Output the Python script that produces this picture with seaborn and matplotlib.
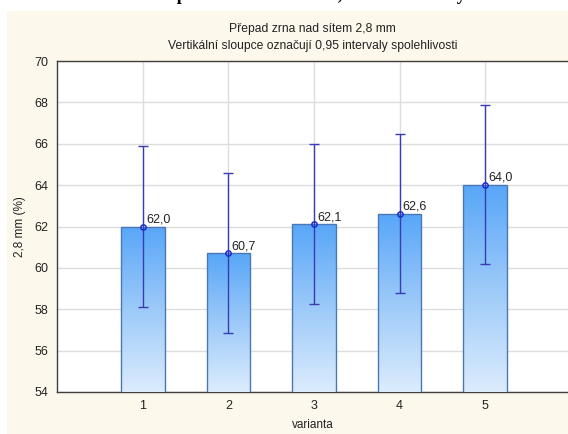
import numpy as np
import pandas as pd
import matplotlib
matplotlib.use("Agg")
import matplotlib.pyplot as plt
import seaborn as sns
from matplotlib.colors import LinearSegmentedColormap
from matplotlib.patches import Rectangle

categories = ["1", "2", "3", "4", "5"]
means = [62.0, 60.7, 62.1, 62.6, 64.0]
ci_low = [58.1, 56.85, 58.25, 58.78, 60.17]
ci_high = [65.88, 64.58, 66.0, 66.48, 67.86]
labels = ["62,0", "60,7", "62,1", "62,6", "64,0"]
yticks = [54, 56, 58, 60, 62, 64, 66, 68, 70]

sns.set_style("white")
plt.rcParams['font.family'] = ['Liberation Sans', 'DejaVu Sans']

fig = plt.figure(figsize=(5.68, 4.34), dpi=100, facecolor="white")
# beige panel background
fig.patches.append(Rectangle((7/568, 0), 1 - 7/568, (434 - 11) / 434,
                             transform=fig.transFigure, facecolor="#fdf8ec",
                             edgecolor="none", zorder=-10))
# cut-off caption at very top (only its lower edge is visible, as in the reference)
fig.text(0.49, 1 + 0.5/434, "Obr. 3: Přepad zrna nad sítem 2,8 mm - varianty",
         ha="center", va="baseline", fontsize=13, fontweight="bold",
         family=["Liberation Serif", "DejaVu Serif"], color="black")

ax = fig.add_axes([57/568, (434 - 392) / 434, (568.5 - 57) / 568, (392 - 61) / 434])
ax.set_facecolor("white")

df = pd.DataFrame({"varianta": categories, "value": means})
sns.barplot(data=df, x="varianta", y="value", ax=ax, errorbar=None,
            width=0.51, color="#7fb8f5", edgecolor="#4a78b4", linewidth=1.0,
            zorder=3)

cmap = LinearSegmentedColormap.from_list("bar", ["#dcecfd", "#9ccaf9", "#58a6f8"])
grad = np.linspace(0, 1, 256).reshape(-1, 1)
for p in list(ax.patches):
    x0, y0 = p.get_x(), 54
    w, h = p.get_width(), p.get_height()
    im = ax.imshow(grad, cmap=cmap, origin="lower", aspect="auto",
                   extent=(x0, x0 + w, y0, h), zorder=2.9)
    im.set_clip_path(p)
    p.set_facecolor("none")

xs = np.arange(len(categories))
means_a = np.array(means)
yerr = np.vstack([means_a - np.array(ci_low), np.array(ci_high) - means_a])
ax.errorbar(xs, means_a, yerr=yerr, fmt="none", ecolor="#3a3ab4",
            elinewidth=1.0, capsize=3.3, capthick=1.0, zorder=5)
ax.plot(xs, means_a, linestyle="none", marker="o", markersize=3.8,
        markerfacecolor="none", markeredgecolor="#1a2ed0", markeredgewidth=1.1,
        zorder=6)
for x, m, lab in zip(xs, means, labels):
    ax.text(x + 0.035, m + 0.2, lab, ha="left", va="baseline", fontsize=9,
            color="#222222", zorder=7)

ax.set_ylim(54, 70)
ax.set_xlim(-1.005, 4.975)
ax.set_yticks(yticks)
ax.set_yticklabels([str(t) for t in yticks])
ax.grid(True, color="#dcdcdc", linewidth=1.0, zorder=0)
ax.set_axisbelow(True)
for s in ["left", "bottom", "top", "right"]:
    ax.spines[s].set_visible(True)
    ax.spines[s].set_color("#404040")
    ax.spines[s].set_linewidth(1.0)
ax.spines["right"].set_visible(False)
ax.tick_params(axis="y", direction="out", length=4, width=0.8, color="#404040",
               labelsize=9, labelcolor="#222222", pad=2)
ax.tick_params(axis="x", direction="in", length=3, width=0.8, color="#404040",
               labelsize=9, labelcolor="#222222", pad=6)
ax.set_xlabel("varianta", fontsize=8.5, color="#222222", labelpad=5)
ax.set_ylabel("2,8 mm (%)", fontsize=8.5, color="#222222", labelpad=6)
ax.set_title("Přepad zrna nad sítem 2,8 mm\nVertikální sloupce označují 0,95 intervaly spolehlivosti",
             fontsize=8.75, color="#222222", pad=9, linespacing=1.55)

fig.savefig("out.png", dpi=100, facecolor=fig.get_facecolor())
